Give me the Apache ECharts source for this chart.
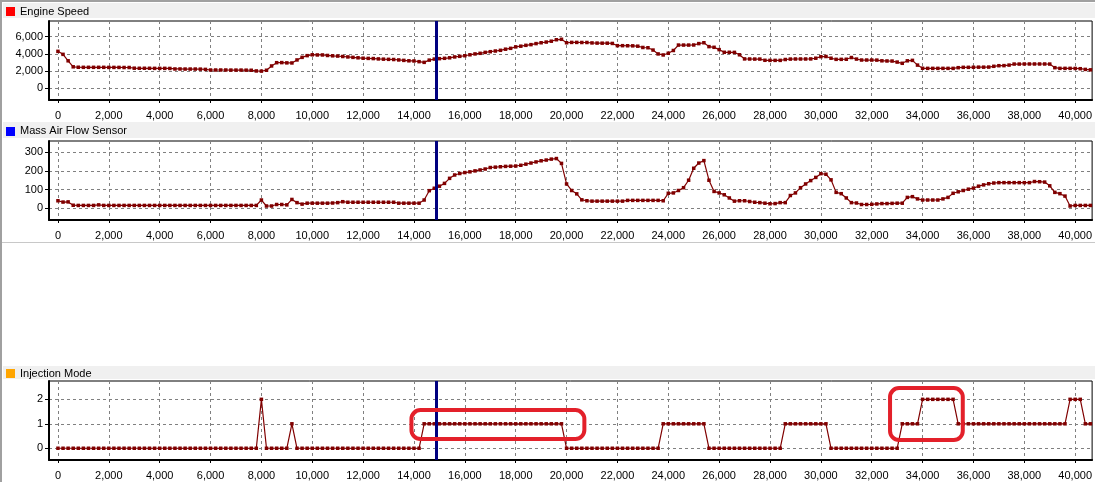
<!DOCTYPE html>
<html><head><meta charset="utf-8">
<script src="https://cdn.jsdelivr.net/npm/echarts@6/dist/echarts.min.js"></script>
<style>html,body{margin:0;padding:0;background:#fff}#c{width:1095px;height:482px}</style>
</head><body><div id="c"></div>
<script>
// ---- data (sampled every 200 ms) ----
const sampleStep = 200;
const engineSpeed = [
4300,3950,3200,2500,2450,2440,2440,2440,2440,2440,
2430,2430,2430,2420,2420,2340,2330,2330,2330,2320,
2320,2320,2310,2250,2250,2240,2240,2240,2230,2200,
2130,2130,2130,2130,2120,2120,2120,2110,2100,2020,
2000,2100,2600,2980,2990,2960,2950,3300,3600,3800,
3900,3880,3880,3820,3780,3750,3700,3650,3600,3550,
3500,3480,3460,3420,3390,3370,3350,3300,3250,3200,
3180,3100,3020,3280,3400,3450,3490,3550,3650,3720,
3790,3900,4000,4070,4180,4260,4340,4420,4550,4650,
4820,4900,5000,5080,5200,5300,5380,5480,5650,5700,
5300,5340,5340,5330,5330,5280,5260,5250,5250,5220,
4960,4960,4950,4940,4900,4750,4720,4450,4000,3880,
4080,4400,5030,5030,5030,5040,5200,5300,4850,4770,
4500,4190,4190,4180,3900,3420,3410,3400,3400,3260,
3250,3250,3250,3350,3400,3410,3410,3410,3420,3500,
3680,3700,3500,3370,3370,3380,3580,3400,3290,3290,
3290,3280,3200,3180,3170,3050,2910,3200,3250,2700,
2330,2320,2320,2320,2320,2320,2320,2400,2440,2440,
2450,2460,2460,2470,2560,2630,2640,2700,2820,2820,
2830,2830,2830,2830,2830,2820,2400,2320,2320,2320,
2310,2280,2200,2150];
const massAirFlow = [
40,33,34,16,15,15,15,15,18,15,
15,15,15,15,15,15,15,15,15,15,
15,15,15,15,15,15,15,15,15,15,
15,15,15,15,15,15,15,15,15,15,
44,12,12,20,20,18,47,30,22,27,
27,27,27,27,28,30,35,32,32,32,
32,32,32,32,32,32,32,27,27,27,
27,27,44,94,107,118,133,160,178,186,
191,195,200,205,210,218,220,222,224,225,
226,230,236,242,248,254,258,263,266,240,
130,95,77,45,40,38,38,38,38,38,
38,38,42,42,42,42,42,42,42,40,
80,82,95,110,150,214,242,255,150,90,
82,72,55,38,40,40,36,32,30,27,
24,25,30,30,68,82,110,130,148,165,
185,182,152,85,78,55,30,28,20,20,
21,23,25,25,26,27,27,58,62,50,
44,44,44,44,50,58,80,88,95,102,
108,118,125,131,135,137,137,137,137,137,
137,137,143,142,140,120,85,78,65,12,
15,15,15,15];
const injectionMode = [
0,0,0,0,0,0,0,0,0,0,
0,0,0,0,0,0,0,0,0,0,
0,0,0,0,0,0,0,0,0,0,
0,0,0,0,0,0,0,0,0,0,
2,0,0,0,0,0,1,0,0,0,
0,0,0,0,0,0,0,0,0,0,
0,0,0,0,0,0,0,0,0,0,
0,0,1,1,1,1,1,1,1,1,
1,1,1,1,1,1,1,1,1,1,
1,1,1,1,1,1,1,1,1,1,
0,0,0,0,0,0,0,0,0,0,
0,0,0,0,0,0,0,0,0,1,
1,1,1,1,1,1,1,1,0,0,
0,0,0,0,0,0,0,0,0,0,
0,0,0,1,1,1,1,1,1,1,
1,1,0,0,0,0,0,0,0,0,
0,0,0,0,0,0,1,1,1,1,
2,2,2,2,2,2,2,1,1,1,
1,1,1,1,1,1,1,1,1,1,
1,1,1,1,1,1,1,1,1,2,
2,2,1,1];
const xTicks = [0,2000,4000,6000,8000,10000,12000,14000,16000,18000,20000,22000,24000,26000,28000,30000,32000,34000,36000,38000,40000];
const engineTicks = [0,2000,4000,6000];
const mafTicks = [0,100,200,300];
const injTicks = [0,1,2];
const panelTitles = ['Engine Speed','Mass Air Flow Sensor','Injection Mode'];
const panelColors = ['#ff0000','#0000ff','#ffa500'];
const cursorTime = 14873;
const highlightBoxes = [
  {t0:13900, t1:20700, v0:0.38, v1:1.56},
  {t0:32720, t1:35580, v0:0.34, v1:2.46}
];

// ---- chart ----
const FONT = 'Liberation Sans';
const fmt = v => Number(v).toLocaleString('en-US');
const pairs = arr => arr.map((v,i)=>[i*sampleStep, v]);

const grids = [
  {left:49, top:21, height:79, right:-2},
  {left:49, top:141, height:79, right:-2},
  {left:49, top:381, height:79, right:-2}
].map(g => Object.assign(g, {show:true, borderColor:'#000', borderWidth:1, backgroundColor:'transparent'}));

const yRanges = [[-1360,7830,engineTicks],[-63,360,mafTicks],[-0.48,2.75,injTicks]];

const xAxes = [0,1,2].map(i => ({
  type:'value', gridIndex:i, min:-352, max:40666,
  axisLine:{show:true, onZero:false, lineStyle:{color:'#000', width:2}},
  axisTick:{show:true, customValues:xTicks, length:3, lineStyle:{color:'#000'}},
  axisLabel:{customValues:xTicks, formatter:fmt, color:'#000', fontFamily:FONT, fontSize:11, margin:10, showMinLabel:true, showMaxLabel:true},
  splitLine:{show:true, lineStyle:{color:'#808080', width:1, type:[3,3]}}
}));
const yAxes = yRanges.map((r,i) => ({
  type:'value', gridIndex:i, min:r[0], max:r[1],
  axisLine:{show:true, onZero:false, lineStyle:{color:'#000', width:2}},
  axisTick:{show:true, customValues:r[2], length:4, lineStyle:{color:'#000'}},
  axisLabel:{customValues:r[2], formatter:fmt, color:'#000', fontFamily:FONT, fontSize:11, margin:6},
  splitLine:{show:true, lineStyle:{color:'#808080', width:1, type:[3,3]}}
}));

const seriesData = [engineSpeed, massAirFlow, injectionMode];
const series = seriesData.map((arr,i) => ({
  type:'line', xAxisIndex:i, yAxisIndex:i, data:pairs(arr),
  symbol:'rect', symbolSize:3.5, showAllSymbol:true,
  itemStyle:{color:'#800000'}, lineStyle:{color:'#800000', width:1.2},
  silent:true, animation:false,
  markLine:{silent:true, symbol:['none','none'], label:{show:false},
    lineStyle:{color:'#00007f', width:3, type:'solid'}, data:[{xAxis:cursorTime}], animation:false}
}));

const headerY = [[3,15],[122,16],[366,13]];
const graphic = [
  {type:'rect', id:'bl', left:0, top:0, shape:{width:2, height:482}, style:{fill:'#a0a0a0'}, z:-1},
  {type:'rect', id:'bt', left:0, top:0, shape:{width:1095, height:2}, style:{fill:'#a0a0a0'}, z:-1},
  {type:'rect', id:'sep', left:2, top:242, shape:{width:1093, height:1}, style:{fill:'#c8c8c8'}, z:-1}
];
panelTitles.forEach((t,i) => {
  const [y,h] = headerY[i];
  graphic.push({type:'rect', id:'hb'+i, left:3, top:y, shape:{width:1092, height:h}, style:{fill:'#f0f0f0'}, z:-1});
  graphic.push({type:'rect', id:'hi'+i, left:6, top:y+Math.round((h-9)/2)+1, shape:{width:9, height:9}, style:{fill:panelColors[i]}});
  graphic.push({type:'text', id:'ht'+i, left:20, top:y+Math.round(h/2)-5, style:{text:t, fill:'#000', font:'11px '+FONT}});
});

const chart = echarts.init(document.getElementById('c'), null, {renderer:'canvas'});
chart.setOption({animation:false, grid:grids, xAxis:xAxes, yAxis:yAxes, series, graphic});

// annotation boxes positioned from data coordinates
const boxGraphics = highlightBoxes.map((b,k) => {
  const p0 = chart.convertToPixel({xAxisIndex:2, yAxisIndex:2}, [b.t0, b.v1]);
  const p1 = chart.convertToPixel({xAxisIndex:2, yAxisIndex:2}, [b.t1, b.v0]);
  return {type:'rect', id:'box'+k, z:100,
    shape:{x:p0[0], y:p0[1], width:p1[0]-p0[0], height:p1[1]-p0[1], r:9},
    style:{fill:'none', stroke:'#e3202a', lineWidth:4}};
});
chart.setOption({graphic: boxGraphics});
</script></body></html>
